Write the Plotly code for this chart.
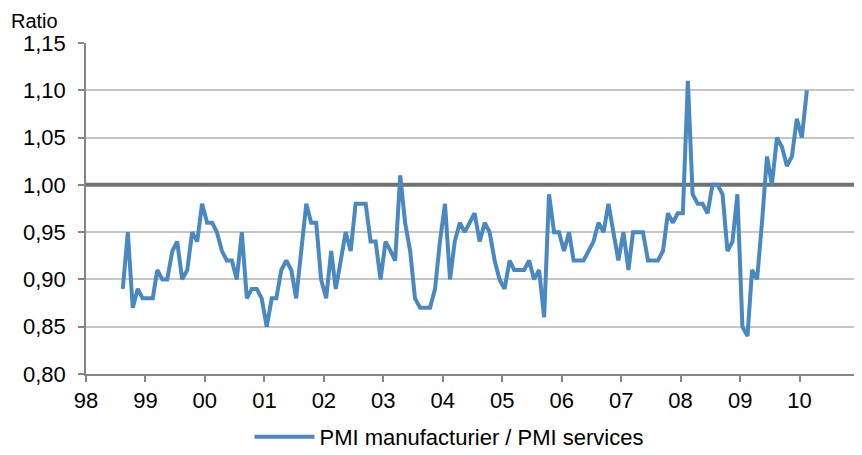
import pandas as pd
import plotly.graph_objects as go

# ---- data (monthly ratio, Jul 1998 .. Jan 2010) ----
start_month = "1998-07-15"
ratio_1998_2000 = [0.89, 0.95, 0.87, 0.89, 0.88, 0.88, 0.88, 0.91, 0.90, 0.90, 0.93, 0.94,
                   0.90, 0.91, 0.95, 0.94, 0.98, 0.96, 0.96, 0.95, 0.93, 0.92, 0.92, 0.90,
                   0.95, 0.88, 0.89, 0.89]
ratio_2000_2003 = [0.88, 0.85, 0.88, 0.88, 0.91, 0.92, 0.91, 0.88, 0.93, 0.98, 0.96, 0.96,
                   0.90, 0.88, 0.93, 0.89, 0.92, 0.95, 0.93, 0.98, 0.98, 0.98, 0.94, 0.94,
                   0.90, 0.94, 0.93, 0.92, 1.01]
ratio_2003_2005 = [0.96, 0.93, 0.88, 0.87, 0.87, 0.87, 0.89, 0.94, 0.98, 0.90, 0.94, 0.96,
                   0.95, 0.96, 0.97, 0.94, 0.96, 0.95, 0.92, 0.90, 0.89, 0.92, 0.91, 0.91,
                   0.91, 0.92, 0.90, 0.91]
ratio_2005_2007 = [0.86, 0.99, 0.95, 0.95, 0.93, 0.95, 0.92, 0.92, 0.92, 0.93, 0.94, 0.96,
                   0.95, 0.98, 0.95, 0.92, 0.95, 0.91, 0.95, 0.95, 0.95, 0.92, 0.92, 0.92,
                   0.93, 0.97, 0.96, 0.97]
ratio_2007_2010 = [0.97, 1.11, 0.99, 0.98, 0.98, 0.97, 1.00, 1.00, 0.99, 0.93, 0.94, 0.99,
                   0.85, 0.84, 0.91, 0.90, 0.96, 1.03, 1.00, 1.05, 1.04, 1.02, 1.03, 1.07,
                   1.05, 1.10]
ratio = ratio_1998_2000 + ratio_2000_2003 + ratio_2003_2005 + ratio_2005_2007 + ratio_2007_2010

reference_level = 1.00
series_name = "PMI manufacturier / PMI services"
y_title = "Ratio"

year_ticks = [str(y) + "-01-01" for y in range(1998, 2012)]
year_labels = ["98", "99", "00", "01", "02", "03", "04", "05", "06", "07", "08", "09", "10", ""]
y_ticks = [0.80, 0.85, 0.90, 0.95, 1.00, 1.05, 1.10, 1.15]

dates = pd.date_range(start=start_month, periods=len(ratio), freq="MS") + pd.Timedelta(days=14)

FONT = "Liberation Sans, Arial, sans-serif"
AXIS_GREY = "#868686"

fig = go.Figure()
fig.add_trace(go.Scatter(
    x=[year_ticks[0], year_ticks[-1]], y=[reference_level, reference_level],
    mode="lines", line=dict(color="#717171", width=4),
    showlegend=False, hoverinfo="skip"))
fig.add_trace(go.Scatter(
    x=dates, y=ratio, mode="lines", name=series_name,
    line=dict(color="#4a88c2", width=4)))

# page body has an 8px default margin, so the figure is 8px smaller each way
fig.update_layout(
    width=854, height=447,
    margin=dict(l=78, r=3, t=35, b=81, autoexpand=False),
    paper_bgcolor="white", plot_bgcolor="white",
    font=dict(family=FONT, size=22, color="#000000"),
    separators=", ",
    showlegend=True,
    legend=dict(orientation="h", x=0.2115, xanchor="left", y=-0.19, yanchor="middle",
                font=dict(size=22), itemwidth=60, bgcolor="rgba(0,0,0,0)"),
    annotations=[dict(text=y_title, xref="paper", yref="paper", x=-0.0996, y=1.0665,
                      xanchor="left", yanchor="middle", showarrow=False,
                      font=dict(size=20))],
)
fig.update_xaxes(
    type="date", range=[year_ticks[0], year_ticks[-1]],
    tickmode="array", tickvals=year_ticks, ticktext=year_labels,
    showgrid=False, showline=True, linecolor=AXIS_GREY, linewidth=1.5,
    ticks="outside", ticklen=6, tickcolor=AXIS_GREY, tickwidth=1.5,
    tickfont=dict(size=22), zeroline=False)
fig.update_yaxes(
    range=[0.80, 1.15], tickmode="array", tickvals=y_ticks, tickformat=".2f",
    showgrid=True, gridcolor="#c6c6c6", gridwidth=2,
    showline=True, linecolor=AXIS_GREY, linewidth=1.5,
    ticks="outside", ticklen=6, tickcolor=AXIS_GREY, tickwidth=1.5,
    ticklabelstandoff=8,
    tickfont=dict(size=22), zeroline=False)

fig.write_html("out.html")
